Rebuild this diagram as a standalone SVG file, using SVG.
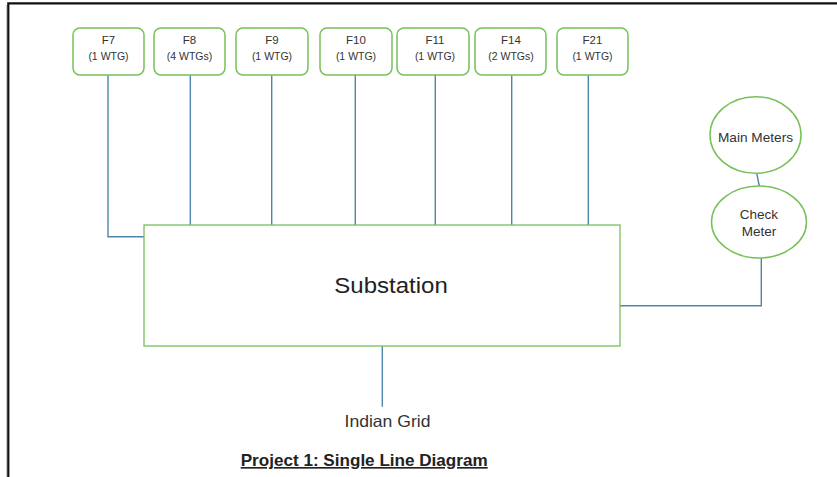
<svg xmlns="http://www.w3.org/2000/svg" width="837" height="477" viewBox="0 0 837 477">
<style>
.box{fill:#fff;stroke:#78C05A;stroke-width:1.5}
.sub{fill:#fff;stroke:#78C05A;stroke-width:1.3}
.wire{fill:none;stroke:#4E86AA;stroke-width:1.4}
.f{font-family:"Liberation Sans",Arial,sans-serif;fill:#333;text-anchor:middle}
.t1{font-size:11.5px}
.t2{font-size:10.5px}
</style>
<rect x="0" y="0" width="837" height="477" fill="#fff"/>
<path d="M8.3 477 V3.3 H837" fill="none" stroke="#111" stroke-width="2.2"/>
<line x1="6.5" y1="5" x2="6.5" y2="477" stroke="#ccc" stroke-width="1"/>
<g id="connectors">
<path class="wire" d="M108 75 V236.7 H144"/>
<line class="wire" x1="190.3" y1="75" x2="190.3" y2="225"/>
<line class="wire" x1="271.7" y1="75" x2="271.7" y2="225"/>
<line class="wire" x1="355.3" y1="75" x2="355.3" y2="225"/>
<line class="wire" x1="435.3" y1="75" x2="435.3" y2="225"/>
<line class="wire" x1="511.7" y1="75" x2="511.7" y2="225"/>
<line class="wire" x1="588.3" y1="75" x2="588.3" y2="225"/>
<path class="wire" d="M620 305.7 H761.3 V258"/>
<line class="wire" x1="756.7" y1="173.3" x2="759.3" y2="186"/>
<line class="wire" x1="382.3" y1="346" x2="382.3" y2="406.7"/>
</g>
<g id="substation">
<rect class="sub" x="144" y="225" width="476" height="121"/>
<text class="f" x="391" y="293.3" font-size="22.5" textLength="113.5" lengthAdjust="spacingAndGlyphs" style="fill:#222">Substation</text>
</g>
<g id="f7"><rect class="box" x="73" y="28" width="71" height="47" rx="7"/><text class="f t1" x="108.5" y="44.3">F7</text><text class="f t2" x="108.5" y="60">(1 WTG)</text></g>
<g id="f8"><rect class="box" x="154" y="28" width="71" height="47" rx="7"/><text class="f t1" x="189.5" y="44.3">F8</text><text class="f t2" x="189.5" y="60">(4 WTGs)</text></g>
<g id="f9"><rect class="box" x="236" y="28" width="72" height="47" rx="7"/><text class="f t1" x="272" y="44.3">F9</text><text class="f t2" x="272" y="60">(1 WTG)</text></g>
<g id="f10"><rect class="box" x="320" y="28" width="72" height="47" rx="7"/><text class="f t1" x="356" y="44.3">F10</text><text class="f t2" x="356" y="60">(1 WTG)</text></g>
<g id="f11"><rect class="box" x="397" y="28" width="72" height="47" rx="7"/><text class="f t1" x="435" y="44.3">F11</text><text class="f t2" x="435" y="60">(1 WTG)</text></g>
<g id="f14"><rect class="box" x="475" y="28" width="71" height="47" rx="7"/><text class="f t1" x="511" y="44.3">F14</text><text class="f t2" x="511" y="60">(2 WTGs)</text></g>
<g id="f21"><rect class="box" x="557" y="28" width="71" height="47" rx="7"/><text class="f t1" x="592.5" y="44.3">F21</text><text class="f t2" x="592.5" y="60">(1 WTG)</text></g>
<g id="main-meters"><ellipse class="box" cx="755.5" cy="135" rx="45.5" ry="38.3"/><text class="f" x="755.5" y="141.7" font-size="13.5" textLength="75" lengthAdjust="spacingAndGlyphs">Main Meters</text></g>
<g id="check-meter"><ellipse class="box" cx="759" cy="222" rx="47.5" ry="36"/><text class="f" x="759" y="219.3" font-size="13.5">Check</text><text class="f" x="759" y="236" font-size="13.5">Meter</text></g>
<g id="indian-grid"><text class="f" x="387.5" y="426.7" font-size="16.5" textLength="86" lengthAdjust="spacingAndGlyphs">Indian Grid</text></g>
<text x="240.7" y="466" font-family="'Liberation Sans',Arial,sans-serif" font-weight="bold" font-size="16.5" fill="#222" text-decoration="underline" textLength="247" lengthAdjust="spacingAndGlyphs">Project 1: Single Line Diagram</text>
</svg>
